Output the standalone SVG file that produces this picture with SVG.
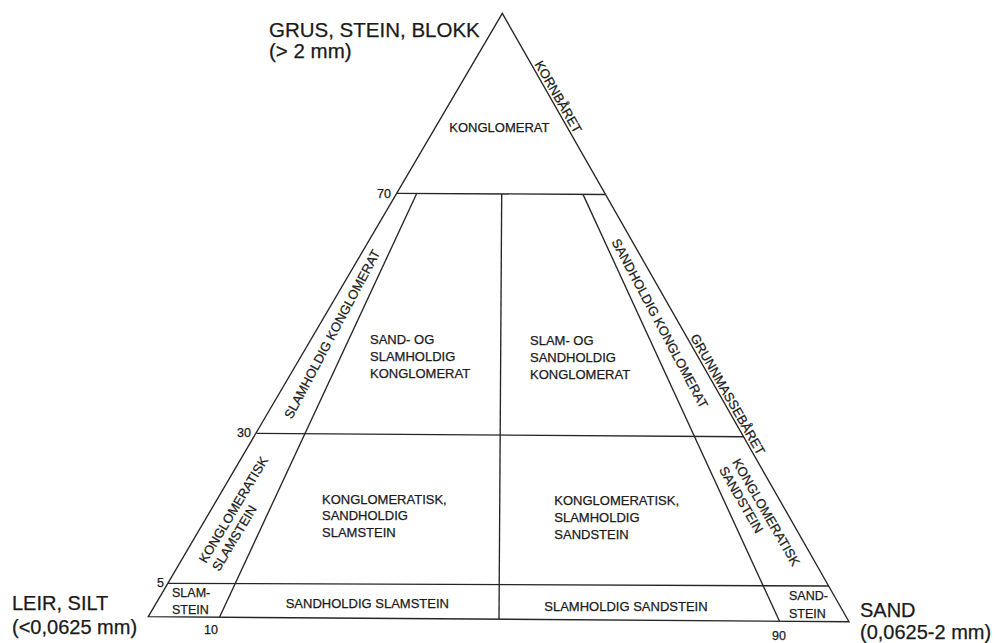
<svg xmlns="http://www.w3.org/2000/svg" width="996" height="643" viewBox="0 0 996 643">
  <style>
    .ln { fill: none; stroke: #262626; stroke-width: 1.35; stroke-linejoin: miter; }
    text { font-family: "Liberation Sans", Arial, Helvetica, sans-serif; fill: #1a1a1a; stroke: #1a1a1a; stroke-width: 0.25; }
    .big { font-size: 20.5px; }
    .lbl { font-size: 13px; }
    .sm { font-size: 12.5px; }
    .num { font-size: 12.5px; }
    .mid { text-anchor: middle; }
  </style>
  <rect width="996" height="643" fill="#ffffff"/>

  <!-- ternary grid: outer triangle and class boundaries -->
  <g id="grid">
    <polygon class="ln" points="502.3,13.3 849,621.7 148.3,616.7"/>
    <line class="ln" x1="396.6" y1="193.3" x2="605.4" y2="194.5"/>
    <line class="ln" x1="256.5" y1="433.3" x2="743.6" y2="436.7"/>
    <line class="ln" x1="167.9" y1="583.3" x2="829" y2="586"/>
    <line class="ln" x1="501.7" y1="194" x2="499" y2="619.2"/>
    <line class="ln" x1="416.5" y1="194" x2="219.5" y2="617.2"/>
    <line class="ln" x1="583" y1="194.4" x2="779.5" y2="621.2"/>
  </g>

  <!-- end-member labels -->
  <g id="corner-top">
    <text class="big" x="269" y="36.5">GRUS, STEIN, BLOKK</text>
    <text class="big" x="269" y="58">(&gt; 2 mm)</text>
  </g>
  <g id="corner-left">
    <text class="big" x="12" y="610" style="font-size:20px">LEIR, SILT</text>
    <text class="big" x="12" y="634" style="font-size:20px">(&lt;0,0625 mm)</text>
  </g>
  <g id="corner-right">
    <text class="big" x="860" y="616.5" style="font-size:20px">SAND</text>
    <text class="big" x="860" y="638.5" style="font-size:20px">(0,0625-2 mm)</text>
  </g>

  <!-- percentage ticks -->
  <g id="ticks">
    <text class="num" x="377" y="198">70</text>
    <text class="num" x="237" y="437">30</text>
    <text class="num" x="157" y="587">5</text>
    <text class="num mid" x="211" y="634">10</text>
    <text class="num" x="772" y="639.5">90</text>
  </g>

  <!-- rock classes -->
  <g id="konglomerat">
    <text class="lbl" x="449.3" y="131.5">KONGLOMERAT</text>
  </g>
  <g id="sand-og-slamholdig-konglomerat">
    <text class="lbl" x="370" y="344">SAND- OG</text>
    <text class="lbl" x="370" y="361">SLAMHOLDIG</text>
    <text class="lbl" x="370" y="378">KONGLOMERAT</text>
  </g>
  <g id="slam-og-sandholdig-konglomerat">
    <text class="lbl" x="530" y="345">SLAM- OG</text>
    <text class="lbl" x="530" y="362">SANDHOLDIG</text>
    <text class="lbl" x="530" y="379">KONGLOMERAT</text>
  </g>
  <g id="konglomeratisk-sandholdig-slamstein">
    <text class="lbl" x="322" y="503.5">KONGLOMERATISK,</text>
    <text class="lbl" x="322" y="520.3">SANDHOLDIG</text>
    <text class="lbl" x="322" y="537.3">SLAMSTEIN</text>
  </g>
  <g id="konglomeratisk-slamholdig-sandstein">
    <text class="lbl" x="554.3" y="505">KONGLOMERATISK,</text>
    <text class="lbl" x="554.3" y="522">SLAMHOLDIG</text>
    <text class="lbl" x="554.3" y="539">SANDSTEIN</text>
  </g>
  <g id="sandholdig-slamstein">
    <text class="lbl" x="285.7" y="608">SANDHOLDIG SLAMSTEIN</text>
  </g>
  <g id="slamholdig-sandstein">
    <text class="lbl" x="544.3" y="610.5">SLAMHOLDIG SANDSTEIN</text>
  </g>
  <g id="slamstein">
    <text class="sm" x="172" y="597">SLAM-</text>
    <text class="sm" x="172" y="613.5">STEIN</text>
  </g>
  <g id="sandstein">
    <text class="sm" x="789" y="600">SAND-</text>
    <text class="sm" x="789" y="617.5">STEIN</text>
  </g>

  <!-- labels running along the slanted strips -->
  <g id="slamholdig-konglomerat">
    <text class="lbl mid" transform="translate(332,334) rotate(-62)" dy="4.7">SLAMHOLDIG KONGLOMERAT</text>
  </g>
  <g id="konglomeratisk-slamstein" transform="translate(206,564) rotate(-59)">
    <text class="lbl" x="0" y="0">KONGLOMERATISK</text>
    <text class="lbl" x="0" y="15.4">SLAMSTEIN</text>
  </g>
  <g id="sandholdig-konglomerat">
    <text class="lbl mid" transform="translate(660,323.3) rotate(62)" dy="4.7">SANDHOLDIG KONGLOMERAT</text>
  </g>
  <g id="konglomeratisk-sandstein" transform="translate(732,462) rotate(60)">
    <text class="lbl" x="0" y="0">KONGLOMERATISK</text>
    <text class="lbl" x="0" y="15.4">SANDSTEIN</text>
  </g>

  <!-- fabric labels outside the right edge -->
  <g id="kornbaret">
    <text class="lbl mid" transform="translate(558.5,96.7) rotate(60.3)" dy="4.7">KORNBÅRET</text>
  </g>
  <g id="grunnmassebaret">
    <text class="lbl mid" transform="translate(728,394.2) rotate(60.3)" dy="4.7">GRUNNMASSEBÅRET</text>
  </g>
</svg>
